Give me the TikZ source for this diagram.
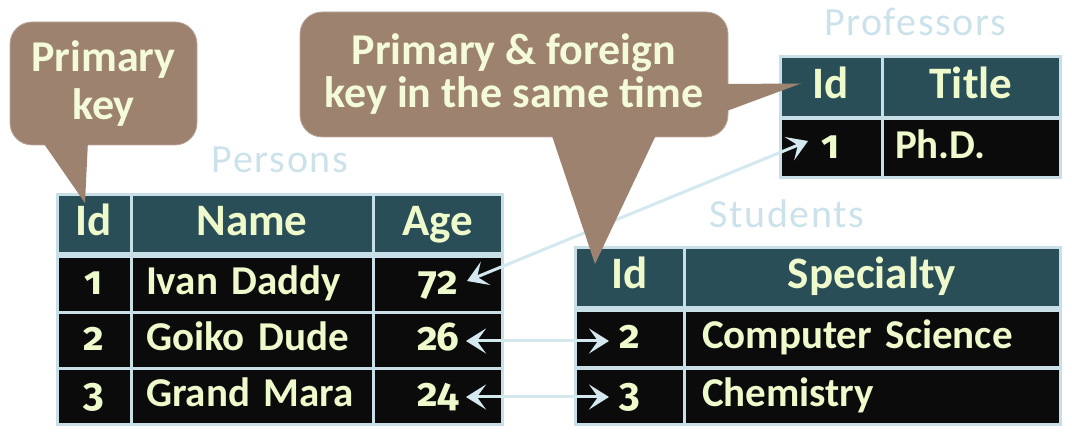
\documentclass[tikz,border=0pt]{standalone}
\usepackage{fontspec}
\setmainfont{Carlito}
\newfontfamily\numfont{Fira Sans}[Numbers=OldStyle]
\usetikzlibrary{arrows.meta}
\definecolor{callfill}{HTML}{9E8270}
\definecolor{calltext}{HTML}{F4FBDA}
\definecolor{celltext}{HTML}{EEFACB}
\definecolor{hdrbg}{HTML}{2A4E57}
\definecolor{rowbg}{HTML}{0B0B0B}
\definecolor{tblborder}{HTML}{C9DFE7}
\definecolor{titlecol}{HTML}{CCE2EB}
\definecolor{arrowcol}{HTML}{D3E8EF}
\tikzset{
  cellbase/.style={draw=tblborder, line width=3pt, inner sep=0pt, text=celltext,
    text height=29pt, text depth=9pt,
    font=\fontsize{41}{46}\selectfont\bfseries},
  hdr/.style={cellbase, fill=hdrbg, align=center, font=\fontsize{45}{50}\selectfont\bfseries,
    text height=31pt, text depth=9pt},
  rowcell/.style={cellbase, fill=rowbg},
  numcell/.style={rowcell, font=\fontsize{40}{46}\selectfont\numfont\bfseries},
  tbltitle/.style={text=titlecol, font=\fontsize{40}{44}\selectfont\addfontfeatures{LetterSpace=4}},
  callbox/.style={fill=callfill, draw=callfill!70!white, line width=0.8pt, rounded corners=22pt,
    text=calltext, align=center, inner sep=0pt, font=\fontsize{44}{44}\selectfont\bfseries},
  callptr/.style={fill=callfill},
  link/.style={draw=arrowcol, line width=3pt,
    {Stealth[length=20pt,width=25pt,inset=9pt]}-{Stealth[length=20pt,width=25pt,inset=9pt]}}
}
\begin{document}
\begin{tikzpicture}[x=1pt,y=-1pt]
\useasboundingbox (0,0) rectangle (1072,435);
% ---------- Persons ----------
\node[tbltitle] (tp) at (280,160) {Persons};
\node[hdr, minimum width=74pt, minimum height=59pt] (p00) at (94,224.5) {Id};
\node[hdr, minimum width=242pt, minimum height=59pt] (p01) at (252,224.5) {Name};
\node[hdr, minimum width=129pt, minimum height=59pt] (p02) at (437.5,224.5) {Age};
\foreach \r/\y/\id/\nm/\ag in {1/284.5/1/Ivan Daddy/72, 2/340.5/2/Goiko Dude/26, 3/397/3/Grand Mara/24}{
  \node[numcell, minimum width=74pt, minimum height=56pt, align=center] (p\r0) at (94,\y) {\id};
  \node[rowcell, minimum width=242pt, minimum height=56pt, text width=212pt, align=left] (p\r1) at (252,\y) {\nm};
  \node[numcell, minimum width=129pt, minimum height=56pt, text width=41pt, align=right] (p\r2) at (437.5,\y) {\ag};
}
% ---------- Students ----------
\node[tbltitle] (ts) at (787,214) {Students};
\node[hdr, minimum width=109pt, minimum height=60pt] (s00) at (629.5,278) {Id};
\node[hdr, minimum width=376pt, minimum height=60pt] (s01) at (872,278) {Specialty};
\node[numcell, minimum width=109pt, minimum height=57pt, align=center] (s10) at (629.5,339) {2};
\node[rowcell, minimum width=376pt, minimum height=57pt, text width=340pt, align=left] (s11) at (872,339) {Computer Science};
\node[numcell, minimum width=109pt, minimum height=56pt, align=center] (s20) at (629.5,396.5) {3};
\node[rowcell, minimum width=376pt, minimum height=56pt, text width=340pt, align=left] (s21) at (872,396.5) {Chemistry};
% ---------- Professors ----------
\node[tbltitle] (tq) at (915,22) {Professors};
\node[hdr, minimum width=102pt, minimum height=61pt] (q00) at (831,87.5) {Id};
\node[hdr, minimum width=178pt, minimum height=61pt] (q01) at (971,87.5) {Title};
\node[numcell, minimum width=102pt, minimum height=59pt, align=center] (q10) at (831,148.5) {1};
\node[rowcell, minimum width=178pt, minimum height=59pt, text width=152pt, align=left] (q11) at (971,148.5) {Ph.D.};
% ---------- links ----------
\coordinate (a1) at (467,281);
\coordinate (b1) at (808,141);
\coordinate (a2) at (466,341);
\coordinate (b2) at (609,341);
\coordinate (a3) at (466,397);
\coordinate (b3) at (609,397);
\draw[link] (a1) -- (b1);
\draw[link] (a2) -- (b2);
\draw[link] (a3) -- (b3);
% ---------- callouts ----------
\node[callbox, minimum width=187pt, minimum height=123pt] (c1) at (103.5,83.5) {Primary\\[4pt]key};
\fill[callptr] (42,141) -- (85,203) -- (88,141) -- cycle;
\node[callbox, minimum width=428pt, minimum height=125pt] (c2) at (514,74.5) {Primary \& foreign\\[-1pt]key in the same time};
\fill[callptr] (551,133) -- (595,264) -- (657,133) -- cycle;
\fill[callptr] (724,84) -- (801,83.5) -- (724,112) -- cycle;
\end{tikzpicture}
\end{document}
